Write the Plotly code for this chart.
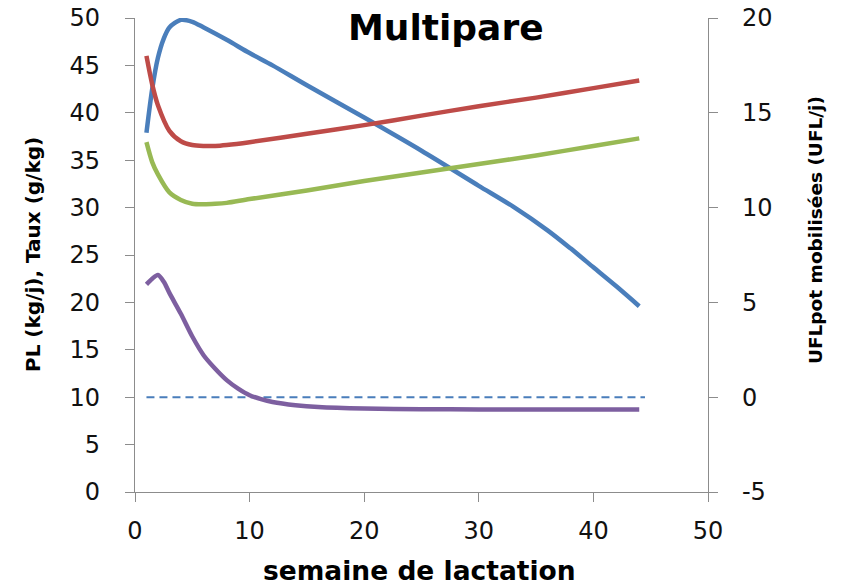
import plotly.graph_objects as go

# weeks of lactation
weeks_pl = [1, 1.5, 2, 2.5, 3, 4, 5, 6, 8, 10, 12, 15, 20, 25, 30, 33, 36, 38, 40, 42, 44]
pl = [37.9, 42.5, 45.8, 47.8, 49.0, 49.8, 49.6, 49.0, 47.7, 46.3, 45.0, 42.9, 39.5, 36.0, 32.3, 30.1, 27.6, 25.7, 23.7, 21.7, 19.6]

weeks_taux = [1, 1.5, 2, 3, 4, 5, 6, 7, 8, 10, 15, 20, 25, 30, 35, 40, 44]
tp = [46.0, 43.0, 40.8, 38.1, 37.0, 36.6, 36.5, 36.5, 36.6, 36.9, 37.8, 38.7, 39.7, 40.7, 41.6, 42.6, 43.4]
tb = [36.9, 34.8, 33.5, 31.6, 30.8, 30.4, 30.35, 30.4, 30.5, 30.9, 31.8, 32.8, 33.7, 34.6, 35.5, 36.5, 37.3]

weeks_ufl = [1, 1.5, 2, 2.5, 3, 4, 5, 6, 7, 8, 9, 10, 11, 12, 14, 16, 20, 25, 30, 35, 40, 44]
ufl = [5.95, 6.25, 6.45, 6.1, 5.5, 4.4, 3.2, 2.2, 1.5, 0.9, 0.45, 0.1, -0.1, -0.25, -0.42, -0.52, -0.6, -0.63, -0.65, -0.65, -0.65, -0.65]

ref_weeks = [1, 44.5]
ref_ufl = [0, 0]

x_ticks = [0, 10, 20, 30, 40, 50]
y_ticks = [0, 5, 10, 15, 20, 25, 30, 35, 40, 45, 50]
y2_ticks = [-5, 0, 5, 10, 15, 20]
y2_labels = ["-5", "0", "5", "10", "15", "20"]

title_text = "Multipare"
x_title = "semaine de lactation"
y_title = "PL (kg/j), Taux (g/kg)"
y2_title = "UFLpot mobilisées (UFL/j)"

BLUE = "#4A7EBB"
RED = "#BE4B48"
GREEN = "#98B954"
PURPLE = "#7D5FA0"
AXIS = "#8C8C8C"
TICKFONT = dict(family="DejaVu Sans", size=24, color="#111111")


def bold(size):
    return dict(family="DejaVu Sans", size=size, color="#000000", weight="bold")


fig = go.Figure()
fig.add_trace(go.Scatter(x=ref_weeks, y=ref_ufl, yaxis="y2", mode="lines",
                         line=dict(color=BLUE, width=2, dash="8px,5px"), showlegend=False))
fig.add_trace(go.Scatter(x=weeks_pl, y=pl, mode="lines",
                         line=dict(color=BLUE, width=4.5, shape="spline", smoothing=0.8), showlegend=False))
fig.add_trace(go.Scatter(x=weeks_taux, y=tp, mode="lines",
                         line=dict(color=RED, width=4.5, shape="spline", smoothing=0.8), showlegend=False))
fig.add_trace(go.Scatter(x=weeks_taux, y=tb, mode="lines",
                         line=dict(color=GREEN, width=4.5, shape="spline", smoothing=0.8), showlegend=False))
fig.add_trace(go.Scatter(x=weeks_ufl, y=ufl, yaxis="y2", mode="lines",
                         line=dict(color=PURPLE, width=4.5, shape="spline", smoothing=0.8), showlegend=False))

fig.update_layout(
    width=836, height=577,
    margin=dict(l=127, r=136, t=10, b=93, autoexpand=False),
    paper_bgcolor="white", plot_bgcolor="white",
    xaxis=dict(range=[0, 50], tickvals=x_ticks, ticks="outside", ticklen=9, tickcolor=AXIS,
               showline=True, linecolor=AXIS, linewidth=1.3, showgrid=False, zeroline=False,
               tickfont=TICKFONT, ticklabelstandoff=8, automargin=False,
               ticklabeloverflow="allow"),
    yaxis=dict(range=[0, 50], tickvals=y_ticks, ticks="outside", ticklen=9, tickcolor=AXIS,
               showline=True, linecolor=AXIS, linewidth=1.3, showgrid=False, zeroline=False,
               tickfont=TICKFONT, ticklabelstandoff=20, automargin=False,
               ticklabeloverflow="allow"),
    yaxis2=dict(range=[-5, 20], tickvals=y2_ticks, ticktext=y2_labels, overlaying="y", side="right",
                ticks="outside", ticklen=9, tickcolor=AXIS,
                showline=True, linecolor=AXIS, linewidth=1.3, showgrid=False, zeroline=False,
                tickfont=TICKFONT, ticklabelstandoff=19, automargin=False,
                ticklabeloverflow="allow"),
    annotations=[
        dict(text=title_text, xref="paper", yref="paper", x=0.543, y=0.979,
             xanchor="center", yanchor="middle", showarrow=False, font=bold(36)),
        dict(text=x_title, xref="paper", yref="paper", x=0.497, y=-0.165,
             xanchor="center", yanchor="middle", showarrow=False, font=bold(26.5)),
        dict(text=y_title, xref="paper", yref="paper", x=-0.178, y=0.50,
             xanchor="center", yanchor="middle", showarrow=False, textangle=-90, font=bold(20)),
        dict(text=y2_title, xref="paper", yref="paper", x=1.188, y=0.552,
             xanchor="center", yanchor="middle", showarrow=False, textangle=-90, font=bold(18.5)),
    ],
)

fig.write_html("out.html")
